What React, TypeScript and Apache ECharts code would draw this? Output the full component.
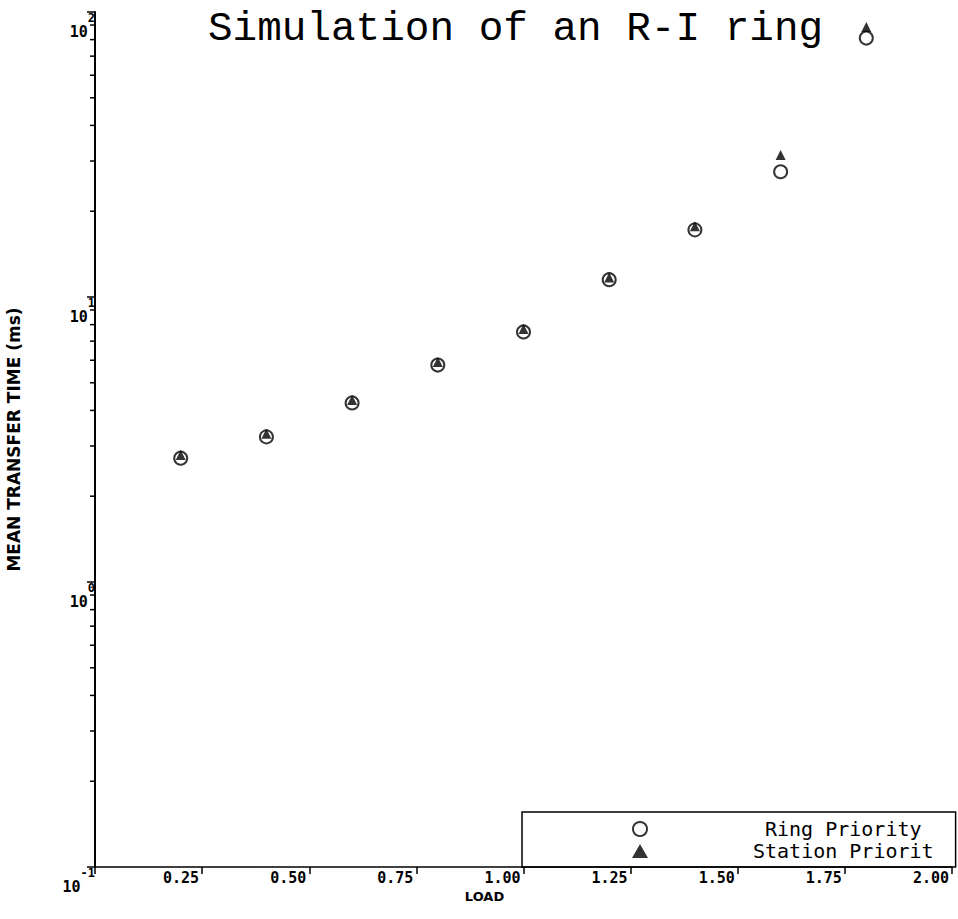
import React, { useEffect, useRef } from "react";
import * as echarts from "echarts";

const titleText = "Simulation of an R-I ring";
const xAxisName = "LOAD";
const yAxisName = "MEAN TRANSFER TIME (ms)";
const seriesNames = ["Ring Priority", "Station Priorit"];

const loads = [0.2, 0.4, 0.6, 0.8, 1.0, 1.2, 1.4, 1.6, 1.8];
const ringPriority = [2.72, 3.23, 4.25, 5.77, 7.54, 11.5, 17.2, 27.5, 81];
const stationPriority = [2.79, 3.31, 4.35, 5.91, 7.72, 11.7, 17.7, 31.5, 88.5];

const xMin = 0;
const xMax = 2.0;
const xInterval = 0.25;
const yMin = 0.1;
const yMax = 100;
const minorTickValues = [
  0.2, 0.3, 0.4, 0.5, 0.6, 0.7, 0.8, 0.9,
  2, 3, 4, 5, 6, 7, 8, 9,
  20, 30, 40, 50, 60, 70, 80, 90,
];

const MONO = "'DejaVu Sans Mono', monospace";
const SANS = "'DejaVu Sans', sans-serif";

export default function App() {
  const ref = useRef<HTMLDivElement>(null);

  useEffect(() => {
    if (!ref.current) return;
    const chart = echarts.init(ref.current, null, { renderer: "svg" });
    const option: any = {
      animation: false,
      backgroundColor: "#fff",
      title: {
        text: titleText,
        left: 203,
        top: 3,
        textStyle: {
          fontFamily: "'Liberation Mono', monospace",
          fontSize: 41,
          fontWeight: "normal",
          color: "#000",
        },
      },
      grid: {
        left: 95,
        right: 6,
        top: 12,
        bottom: 52,
        containLabel: false,
        outerBoundsMode: "none",
      },
      legend: {
        data: seriesNames,
        orient: "vertical",
        left: 522,
        top: 812,
        padding: [6, 22, 5, 110],
        itemGap: 0,
        itemWidth: 16,
        itemHeight: 14,
        borderColor: "#000",
        borderWidth: 1.5,
        textStyle: {
          fontFamily: MONO,
          fontSize: 20,
          lineHeight: 22,
          color: "#000",
          rich: {
            r: { fontFamily: MONO, fontSize: 20, lineHeight: 22, color: "#000", padding: [0, 0, 0, 112] },
            s: { fontFamily: MONO, fontSize: 20, lineHeight: 22, color: "#000", padding: [0, 0, 0, 100] },
          },
        },
        formatter: (name: string) =>
          name === seriesNames[0] ? `{r|${name}}` : `{s|${name}}`,
      },
      xAxis: {
        type: "value",
        min: xMin,
        max: xMax,
        interval: xInterval,
        name: xAxisName,
        nameLocation: "middle",
        nameGap: 19,
        nameTextStyle: {
          fontFamily: SANS,
          fontWeight: "bold",
          fontSize: 13,
          color: "#000",
          padding: [0, 78, 0, 0],
        },
        axisLine: { show: true, lineStyle: { color: "#000", width: 1.5 } },
        axisTick: { show: true, inside: false, length: 7, lineStyle: { color: "#000", width: 1.5 } },
        axisLabel: {
          margin: 3,
          align: "right",
          fontFamily: MONO,
          fontWeight: "bold",
          fontSize: 15,
          color: "#000",
          padding: [0, 3, 0, 0],
          formatter: (v: number) => (v === 0 ? "" : v.toFixed(2)),
        },
        splitLine: { show: false },
      },
      yAxis: {
        type: "log",
        logBase: 10,
        min: yMin,
        max: yMax,
        name: yAxisName,
        nameLocation: "middle",
        nameGap: 73,
        nameRotate: 90,
        nameTextStyle: {
          fontFamily: SANS,
          fontWeight: "bold",
          fontSize: 17,
          color: "#000",
        },
        axisLine: { show: true, lineStyle: { color: "#000", width: 2 } },
        axisTick: { show: true, inside: false, length: 8, lineStyle: { color: "#000", width: 1.5 } },
        axisLabel: {
          margin: 0,
          verticalAlign: "top",
          formatter: (v: number) => {
            const e = Math.round(Math.log10(v));
            return `{b|10}{s|${e}}`;
          },
          rich: {
            b: {
              fontFamily: MONO,
              fontWeight: "bold",
              fontSize: 15,
              color: "#000",
              lineHeight: 27,
              verticalAlign: "bottom",
            },
            s: {
              fontFamily: MONO,
              fontWeight: "bold",
              fontSize: 12,
              color: "#000",
              lineHeight: 27,
              verticalAlign: "top",
            },
          },
        },
        splitLine: { show: false },
      },
      series: [
        {
          name: "minorTicks",
          type: "custom",
          silent: true,
          clip: false,
          data: minorTickValues.map((v) => [xMin, v]),
          renderItem: (_params: any, api: any) => {
            const p = api.coord([xMin, api.value(1)]);
            return {
              type: "line",
              shape: { x1: p[0] - 5, y1: p[1], x2: p[0], y2: p[1] },
              style: { stroke: "#000", lineWidth: 1.5 },
            };
          },
        },
        {
          name: seriesNames[0],
          type: "scatter",
          symbol: "emptyCircle",
          symbolSize: 13,
          z: 3,
          itemStyle: { color: "#000", borderColor: "#000", borderWidth: 3 },
          data: loads.map((x, i) => [x, ringPriority[i]]),
        },
        {
          name: seriesNames[1],
          type: "scatter",
          symbol: "triangle",
          symbolSize: 10,
          z: 4,
          itemStyle: { color: "#000" },
          data: loads.map((x, i) => [x, stationPriority[i]]),
        },
      ],
    };
    chart.setOption(option);
    return () => chart.dispose();
  }, []);

  return (
    <div
      ref={ref}
      style={{ position: "absolute", left: 0, top: 0, width: 958, height: 919 }}
    />
  );
}
